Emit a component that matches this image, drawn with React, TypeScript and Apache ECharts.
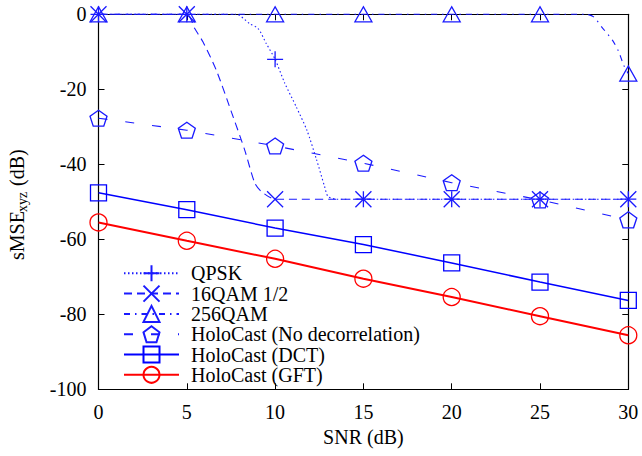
import React, { useEffect, useRef } from 'react';
import * as echarts from 'echarts';

// Marker positions on the SNR axis
const snrTicks = [0, 5, 10, 15, 20, 25, 30];

// Curves (including points along the steep parts)
const qpskSnr = [0, 5, 7.8, 8.56, 9.04, 9.5, 10, 10.55, 11.2, 11.8, 12.35, 12.8, 13.0, 13.5, 15, 20, 25, 30];
const qpskVal = [0, 0, 0, -2.5, -3.8, -7.8, -12, -18.4, -24.7, -30.9, -38.8, -45.9, -48.6, -49.3, -49.3, -49.3, -49.3, -49.3];

const qam16Snr = [0, 5, 5.45, 5.92, 6.67, 7.62, 8.28, 8.85, 9.23, 10, 15, 20, 25, 30];
const qam16Val = [0, 0, -3.8, -7.4, -14.9, -27.3, -36.2, -45, -47.3, -49.3, -49.3, -49.3, -49.3, -49.3];

const qam256Snr = [0, 5, 10, 15, 20, 25, 27.6, 28.04, 28.5, 29.1, 29.46, 29.74, 30];
const qam256Val = [0, 0, 0, 0, 0, 0, 0, -0.7, -3.4, -6.9, -10, -13.6, -15.8];

const noDecorrVal = [-27.7, -30.9, -35.1, -39.7, -44.9, -49.5, -54.8];
const dctVal = [-47.6, -52.1, -57.0, -61.4, -66.3, -71.4, -76.3];
const gftVal = [-55.5, -60.4, -65.2, -70.5, -75.4, -80.5, -85.6];

const seriesNames = ['QPSK', '16QAM 1/2', '256QAM', 'HoloCast (No decorrelation)', 'HoloCast (DCT)', 'HoloCast (GFT)'];

const FONT = 'Liberation Serif';
const BLUE = '#1a1aff';

function curve(xs: number[], ys: number[]) {
  return xs.map((x, i) =>
    snrTicks.includes(x) ? { value: [x, ys[i]] } : { value: [x, ys[i]], symbol: 'none' }
  );
}
function marks(ys: number[]) {
  return snrTicks.map((x, i) => [x, ys[i]]);
}

const PLUS = 'path://M8,0L8,16M0,8L16,8';
const CROSS = 'path://M0,0L16,16M16,0L0,16';
const TRI = 'path://M8,0L16,14L0,14Z';
const PENT = 'path://M10,0L19.51,6.91L15.88,18.09L4.12,18.09L0.49,6.91Z';
const SQUARE = 'path://M0,0L16,0L16,16L0,16Z';

export default function App() {
  const ref = useRef<HTMLDivElement>(null);
  useEffect(() => {
    if (!ref.current) return;
    const chart = echarts.init(ref.current, undefined, { renderer: 'svg' });
    const axisCommon = {
      axisLine: { show: true, onZero: false, lineStyle: { color: '#000', width: 1.2 } },
      axisTick: { show: true, inside: true, length: 6, lineStyle: { color: '#000', width: 1 } },
      splitLine: { show: false },
    };
    const base = (name: string, color: string, width: number, type: any, symbol: string, size: any, data: any[], smooth: number | boolean = false) => ({
      name,
      type: 'line',
      data,
      smooth,
      clip: false,
      silent: true,
      symbol,
      symbolSize: size,
      showAllSymbol: true,
      lineStyle: { color, width, type },
      itemStyle: { color: 'transparent', borderColor: color, borderWidth: 1.3 },
      emphasis: { disabled: true },
    });
    chart.setOption({
      animation: false,
      backgroundColor: '#fff',
      grid: { left: 98.5, top: 14.3, right: 13.7, bottom: 66.7, show: false },
      xAxis: [
        {
          type: 'value', min: 0, max: 30, interval: 5, position: 'bottom',
          name: 'SNR (dB)', nameLocation: 'middle', nameGap: 38,
          nameTextStyle: { fontFamily: FONT, fontSize: 20, color: '#000' },
          axisLabel: { fontFamily: FONT, fontSize: 20, color: '#000', margin: 13 },
          ...axisCommon,
        },
        {
          type: 'value', min: 0, max: 30, interval: 5, position: 'top',
          axisLabel: { show: false },
          ...axisCommon,
        },
      ],
      yAxis: [
        {
          type: 'value', min: -100, max: 0, interval: 20, position: 'left',
          axisLabel: { fontFamily: FONT, fontSize: 20, color: '#000', margin: 12 },
          ...axisCommon,
        },
        {
          type: 'value', min: -100, max: 0, interval: 20, position: 'right',
          axisLabel: { show: false },
          ...axisCommon,
        },
      ],
      legend: {
        orient: 'vertical',
        left: 123,
        top: 263.3,
        padding: 0,
        itemWidth: 55,
        itemHeight: 20,
        itemGap: 0.3,
        selectedMode: false,
        data: seriesNames,
        textStyle: { fontFamily: FONT, fontSize: 20, color: '#000', lineHeight: 20, padding: [0, 0, 0, 7] },
      },
      graphic: [
        { type: 'text', x: 16.5, y: 260, rotation: Math.PI / 2, style: { text: 'sMSE', fontFamily: FONT, fontSize: 20, fill: '#000', align: 'left', verticalAlign: 'middle', textAlign: 'left', textVerticalAlign: 'middle' } },
        { type: 'text', x: 22, y: 212, rotation: Math.PI / 2, style: { text: 'xyz', fontFamily: FONT, fontSize: 14, fill: '#000', align: 'left', verticalAlign: 'middle', textAlign: 'left', textVerticalAlign: 'middle' } },
        { type: 'text', x: 16.5, y: 191, rotation: Math.PI / 2, style: { text: ' (dB)', fontFamily: FONT, fontSize: 20, fill: '#000', align: 'left', verticalAlign: 'middle', textAlign: 'left', textVerticalAlign: 'middle' } },
      ],
      series: [
        base(seriesNames[0], BLUE, 1.1, [1.5, 2.5], PLUS, 16, curve(qpskSnr, qpskVal), 0.25),
        base(seriesNames[1], BLUE, 1.1, [8, 5], CROSS, 16, curve(qam16Snr, qam16Val), 0.25),
        base(seriesNames[2], BLUE, 1.1, [6, 5, 1.5, 5], TRI, [17, 15], curve(qam256Snr, qam256Val), 0.25),
        base(seriesNames[3], BLUE, 1.1, [9, 18], PENT, [17, 16], marks(noDecorrVal)),
        base(seriesNames[4], '#0000ff', 1.5, 'solid', SQUARE, 16, marks(dctVal)),
        base(seriesNames[5], '#ff0000', 2, 'solid', 'circle', 17, marks(gftVal)),
      ],
    });
    return () => chart.dispose();
  }, []);
  return <div ref={ref} style={{ position: 'fixed', left: 0, top: 0, width: 642, height: 456 }} />;
}
